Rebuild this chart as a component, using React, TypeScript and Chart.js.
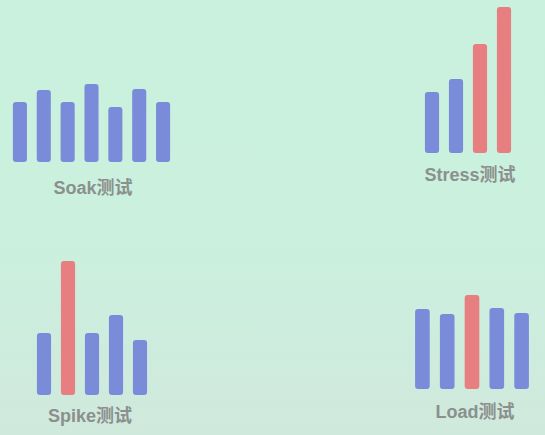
import React, { useEffect, useRef } from "react";
import { Chart, registerables } from "chart.js";

Chart.register(...registerables);

// Bar heights (same unit for all four charts)
const soakValues = [60, 72, 60, 78, 55, 73, 60];
const stressValues = [61, 74, 109, 146];
const spikeValues = [62, 134, 62, 80, 55];
const loadValues = [80, 75, 94, 81, 76];

// Indices of highlighted (red) bars
const soakHighlight: number[] = [];
const stressHighlight = [2, 3];
const spikeHighlight = [1];
const loadHighlight = [2];

// Chart titles
const soakTitle = "Soak测试";
const stressTitle = "Stress测试";
const spikeTitle = "Spike测试";
const loadTitle = "Load测试";

const BLUE = "#7a8cd9";
const RED = "#e77f80";

type MiniProps = {
  left: number;
  top: number;
  width: number;
  height: number;
  values: number[];
  highlight: number[];
};

function MiniBar({ left, top, width, height, values, highlight }: MiniProps) {
  const ref = useRef<HTMLCanvasElement | null>(null);
  useEffect(() => {
    if (!ref.current) return;
    const chart = new Chart(ref.current, {
      type: "bar",
      data: {
        labels: values.map((_, i) => String(i + 1)),
        datasets: [
          {
            data: values,
            backgroundColor: values.map((_, i) => (highlight.includes(i) ? RED : BLUE)),
            barPercentage: 0.59,
            categoryPercentage: 1,
            borderRadius: 3,
            borderSkipped: false,
          },
        ],
      },
      options: {
        responsive: false,
        animation: false,
        layout: { padding: 0 },
        plugins: { legend: { display: false }, tooltip: { enabled: false }, title: { display: false } },
        scales: {
          x: { display: false },
          y: { display: false, min: 0, max: height },
        },
      },
    });
    return () => chart.destroy();
  }, []);
  return (
    <canvas
      ref={ref}
      width={width}
      height={height}
      style={{ position: "absolute", left, top, width, height }}
    />
  );
}

function Label({ cx, cy, text }: { cx: number; cy: number; text: string }) {
  return (
    <div
      style={{
        position: "absolute",
        left: cx - 80,
        top: cy - 11,
        width: 160,
        height: 22,
        lineHeight: "22px",
        textAlign: "center",
        fontFamily: "'Liberation Sans', 'Noto Sans CJK SC', sans-serif",
        fontWeight: 700,
        fontSize: 18,
        color: "#8b908e",
      }}
    >
      {text}
    </div>
  );
}

export default function App() {
  useEffect(() => {
    document.body.style.margin = "0";
  }, []);
  return (
    <div
      style={{
        position: "fixed",
        left: 0,
        top: 0,
        width: 545,
        height: 435,
        overflow: "hidden",
        background: "linear-gradient(180deg, #c9f1de 0%, #cbf0de 55%, #d0e9dd 100%)",
      }}
    >
      <MiniBar left={8} top={62} width={167} height={100} values={soakValues} highlight={soakHighlight} />
      <MiniBar left={420} top={3} width={96} height={150} values={stressValues} highlight={stressHighlight} />
      <MiniBar left={32} top={255} width={120} height={140} values={spikeValues} highlight={spikeHighlight} />
      <MiniBar left={410} top={289} width={124} height={100} values={loadValues} highlight={loadHighlight} />
      <Label cx={93} cy={188} text={soakTitle} />
      <Label cx={470} cy={175} text={stressTitle} />
      <Label cx={90} cy={416} text={spikeTitle} />
      <Label cx={475} cy={412} text={loadTitle} />
    </div>
  );
}
